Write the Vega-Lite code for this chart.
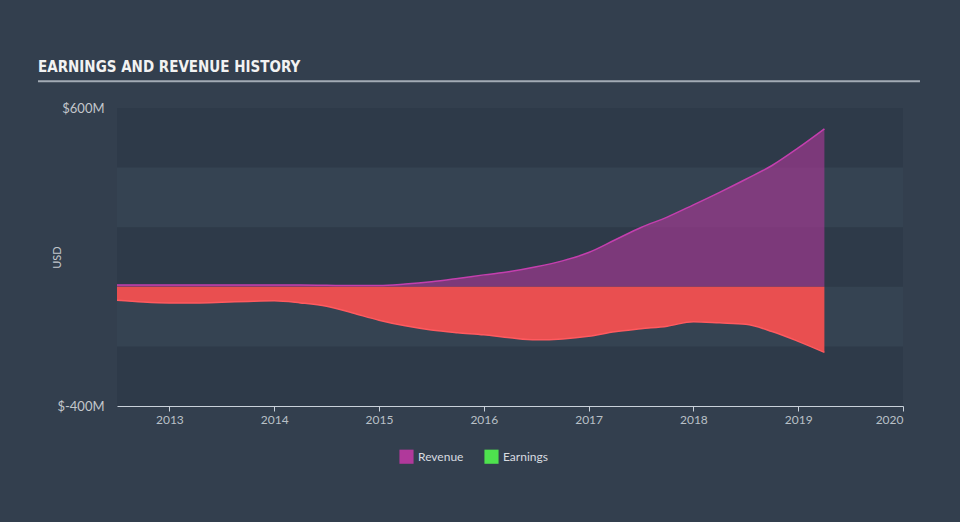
{
  "$schema": "https://vega.github.io/schema/vega-lite/v6.json",
  "width": 786,
  "height": 298,
  "autosize": {"type": "none"},
  "padding": {"left": 117, "top": 108, "right": 57, "bottom": 116},
  "background": "#333f4e",
  "view": {"fill": "#354352", "stroke": null},
  "config": {"font": "Lato"},
  "title": {
    "text": "EARNINGS AND REVENUE HISTORY",
    "anchor": "start",
    "frame": "group",
    "dx": -79,
    "dy": 40,
    "offset": 33,
    "baseline": "alphabetic",
    "font": "DejaVu Sans Condensed",
    "fontSize": 15,
    "fontWeight": "bold",
    "color": "#f2f2f2"
  },
  "datasets": {
    "history": [
      {"year": 2012.5, "revenue": 6, "earnings": -45},
      {"year": 2012.75, "revenue": 6, "earnings": -51},
      {"year": 2013.0, "revenue": 6, "earnings": -54},
      {"year": 2013.25, "revenue": 6, "earnings": -54},
      {"year": 2013.5, "revenue": 6, "earnings": -52},
      {"year": 2013.75, "revenue": 6, "earnings": -49},
      {"year": 2014.0, "revenue": 6, "earnings": -47},
      {"year": 2014.25, "revenue": 6, "earnings": -54},
      {"year": 2014.5, "revenue": 5, "earnings": -65},
      {"year": 2014.75, "revenue": 4, "earnings": -88},
      {"year": 2015.0, "revenue": 4, "earnings": -112},
      {"year": 2015.25, "revenue": 9, "earnings": -131},
      {"year": 2015.5, "revenue": 17, "earnings": -145},
      {"year": 2015.75, "revenue": 28, "earnings": -154},
      {"year": 2016.0, "revenue": 40, "earnings": -161},
      {"year": 2016.25, "revenue": 51, "earnings": -171},
      {"year": 2016.5, "revenue": 67, "earnings": -178},
      {"year": 2016.75, "revenue": 87, "earnings": -175},
      {"year": 2017.0, "revenue": 115, "earnings": -166},
      {"year": 2017.25, "revenue": 157, "earnings": -151},
      {"year": 2017.5, "revenue": 199, "earnings": -141},
      {"year": 2017.75, "revenue": 234, "earnings": -132},
      {"year": 2018.0, "revenue": 275, "earnings": -117},
      {"year": 2018.25, "revenue": 317, "earnings": -121},
      {"year": 2018.5, "revenue": 361, "earnings": -126},
      {"year": 2018.75, "revenue": 407, "earnings": -150},
      {"year": 2019.0, "revenue": 466, "earnings": -183},
      {"year": 2019.25, "revenue": 530, "earnings": -220}
    ]
  },
  "layer": [
    {
      "data": {"values": [{"lo": 400, "hi": 600}, {"lo": 0, "hi": 200}, {"lo": -400, "hi": -200}]},
      "mark": {"type": "rect", "color": "#2e3a49"},
      "encoding": {
        "y": {
          "field": "lo",
          "type": "quantitative",
          "title": "USD",
          "scale": {"domain": [-400, 600], "nice": false, "zero": false},
          "axis": {
            "values": [-400, 600],
            "labelExpr": "'$' + datum.value + 'M'",
            "domain": false,
            "ticks": false,
            "grid": false,
            "labelColor": "#c3c7cc",
            "labelFontSize": 13,
            "labelPadding": 13,
            "titleColor": "#c3c7cc",
            "titleFontSize": 11,
            "titleFontWeight": "normal",
            "titleX": -55
          }
        },
        "y2": {"field": "hi"}
      }
    },
    {
      "data": {"name": "history"},
      "mark": {
        "type": "area",
        "interpolate": "monotone",
        "color": "#b0399b",
        "opacity": 1,
        "fillOpacity": 0.6,
        "line": {"color": "#c43fae", "strokeWidth": 1.5}
      },
      "encoding": {
        "x": {
          "field": "year",
          "type": "quantitative",
          "title": null,
          "scale": {"domain": [2012.5, 2020], "nice": false, "zero": false},
          "axis": {
            "values": [2013, 2014, 2015, 2016, 2017, 2018, 2019, 2020],
            "format": "d",
            "grid": false,
            "domainColor": "#c9d1da",
            "tickColor": "#c9d1da",
            "tickSize": 5,
            "labelColor": "#b9c0c7",
            "labelFontSize": 12,
            "labelPadding": 3
          }
        },
        "y": {"field": "revenue", "type": "quantitative", "title": "USD"}
      }
    },
    {
      "data": {"name": "history"},
      "mark": {
        "type": "area",
        "interpolate": "monotone",
        "color": "#e94f50",
        "opacity": 1,
        "line": {"color": "#ff5a5f", "strokeWidth": 1.5}
      },
      "encoding": {
        "x": {"field": "year", "type": "quantitative", "title": null},
        "y": {"field": "earnings", "type": "quantitative", "title": "USD"}
      }
    },
    {
      "mark": {"type": "rule", "color": "#ffffff", "strokeWidth": 1, "opacity": 0.85},
      "encoding": {"y": {"datum": 0, "type": "quantitative"}}
    },
    {
      "data": {"values": [{"from": 2011.746, "to": 2020.162, "level": 690}]},
      "mark": {"type": "rule", "color": "#a3abb5", "strokeWidth": 2, "clip": false},
      "encoding": {
        "x": {"field": "from", "type": "quantitative"},
        "x2": {"field": "to"},
        "y": {"field": "level", "type": "quantitative"}
      }
    },
    {
      "data": {"values": [{"series": "Revenue"}, {"series": "Earnings"}]},
      "mark": {"type": "point", "filled": true, "opacity": 0},
      "encoding": {
        "color": {
          "field": "series",
          "type": "nominal",
          "scale": {"domain": ["Revenue", "Earnings"], "range": ["#b0399b", "#4ee24e"]},
          "legend": {
            "orient": "none",
            "legendX": 282,
            "legendY": 341,
            "direction": "horizontal",
            "title": null,
            "symbolType": "square",
            "symbolSize": 200,
            "symbolOpacity": 1,
            "symbolStrokeWidth": 0,
            "labelColor": "#d8dce0",
            "labelFontSize": 12,
            "columnPadding": 20
          }
        }
      }
    }
  ]
}
